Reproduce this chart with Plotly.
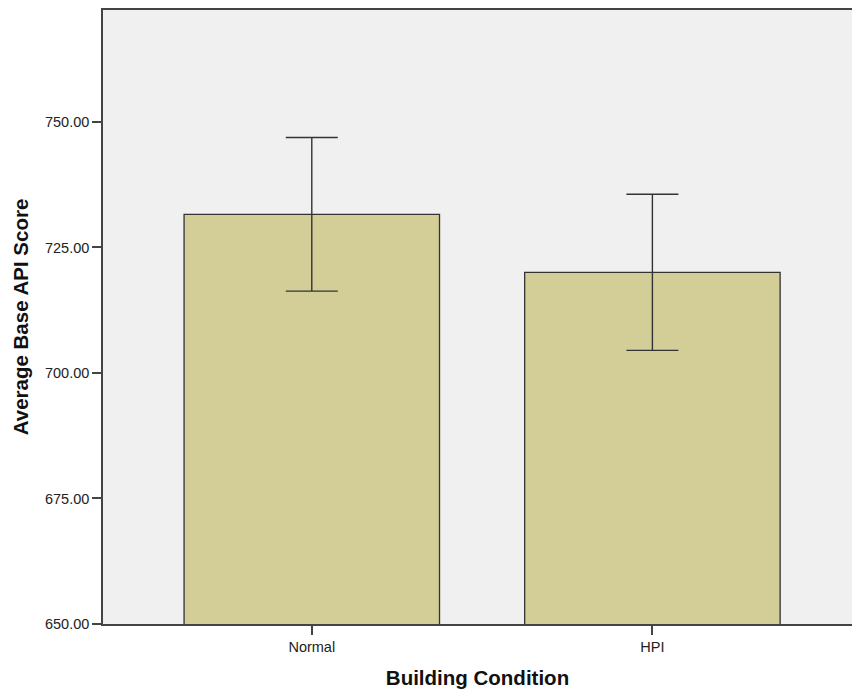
import plotly.graph_objects as go

categories = ["Normal", "HPI"]
means = [731.6, 720.05]
ci_half = [15.3, 15.55]
y_ticks = [650, 675, 700, 725, 750]
y_tick_labels = ["650.00", "675.00", "700.00", "725.00", "750.00"]

fig = go.Figure()
fig.add_trace(go.Bar(
    x=categories, y=means, width=0.75,
    marker=dict(color="#D3CE98", line=dict(color="#333333", width=1.3)),
    error_y=dict(type="data", array=ci_half, visible=True,
                 color="#333333", thickness=1.4, width=26),
))

fig.update_layout(
    width=852, height=690,
    margin=dict(l=103, r=0, t=10, b=66),
    paper_bgcolor="white", plot_bgcolor="#F0F0F0",
    font=dict(family="Liberation Sans, Arial, sans-serif", color="#222222"),
    showlegend=False,
    bargap=0.25,
)
fig.update_xaxes(
    range=[-0.613, 1.586],
    showline=True, linecolor="#444444", linewidth=1.5, mirror=True,
    ticks="outside", ticklen=9, tickcolor="#444444", tickwidth=1.5,
    tickfont=dict(size=14.5, color="#222222"),
    showgrid=False,
    title=dict(text="<b>Building Condition</b>", font=dict(size=20.5, color="#111111"), standoff=16),
)
fig.update_yaxes(
    range=[650, 772.3],
    tickmode="array", tickvals=y_ticks, ticktext=y_tick_labels,
    showline=True, linecolor="#444444", linewidth=1.5,
    ticks="outside", ticklen=9, tickcolor="#444444", tickwidth=1.5,
    tickfont=dict(size=14.5, color="#222222"),
    showgrid=False, zeroline=False,
    title=dict(text="<b>Average Base API Score</b>", font=dict(size=20.5, color="#111111"), standoff=11),
)

fig.write_html(
    "out.html",
    config={"displayModeBar": False},
    post_script="document.body.style.margin='0';document.body.style.overflow='hidden';",
)
